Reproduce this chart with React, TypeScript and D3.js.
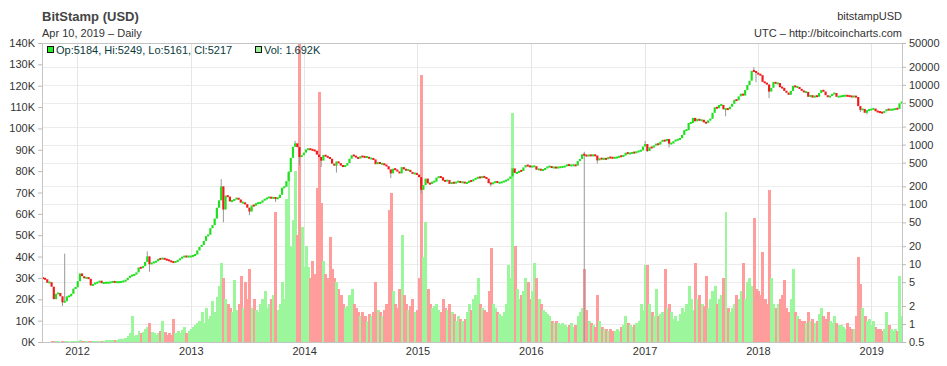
import React, { useRef, useEffect } from 'react';
import * as d3 from 'd3';

// weekly samples (Tuesdays), price in USD, volume in K BTC
const firstWeek = '2011-09-13';
const firstOpen = 5.9;

const close2011 = [5.8, 5.6, 4.9, 5.0, 4.2, 2.6, 3.2, 3.3, 2.9, 2.3, 2.4, 2.9, 2.9, 3.2, 3.9, 4.1];
const close2012 = [5.2, 7.0, 6.3, 5.8, 6.0, 5.7, 4.4, 4.6, 4.9, 4.9, 5.3, 4.8, 4.9, 4.9, 4.9, 5.0, 5.1, 5.0, 5.0, 5.0, 5.1, 5.2, 5.4, 5.9, 6.4, 6.5, 6.7, 7.3, 8.8, 8.6, 9.3, 10.9, 13.5, 10.0, 10.6, 10.8, 11.2, 12.3, 12.2, 12.6, 12.0, 11.8, 11.4, 10.9, 10.8, 11.0, 11.7, 12.4, 13.3, 13.5, 13.4, 13.4];
const close2013 = [13.5, 14.0, 14.5, 17.0, 19.5, 21.0, 24.5, 29.5, 31.0, 40.0, 45, 58, 88, 117, 200, 82, 140, 135, 112, 115, 122, 128, 121, 107, 107, 101, 88, 76, 96, 95, 105, 105, 107, 117, 123, 128, 133, 126, 131, 125, 128, 145, 190, 197, 245, 350, 600, 920, 1050, 905, 620, 665, 735];
const close2014 = [830, 845, 830, 805, 790, 680, 620, 540, 670, 635, 615, 580, 480, 445, 520, 490, 445, 430, 445, 490, 580, 665, 650, 610, 585, 640, 625, 620, 620, 585, 585, 565, 470, 510, 475, 478, 460, 435, 385, 330, 395, 382, 355, 330, 420, 385, 375, 378, 348, 325, 332, 315];
const close2015 = [285, 175, 210, 270, 225, 220, 240, 240, 280, 290, 285, 250, 245, 255, 220, 235, 225, 238, 242, 232, 237, 226, 229, 250, 243, 264, 270, 288, 277, 294, 283, 270, 226, 222, 228, 243, 230, 230, 236, 246, 253, 268, 293, 400, 336, 336, 365, 362, 415, 455, 437, 427];
const close2016 = [430, 435, 380, 390, 372, 377, 405, 425, 432, 412, 415, 412, 415, 422, 424, 435, 465, 445, 450, 454, 445, 530, 575, 690, 665, 645, 670, 650, 670, 655, 545, 590, 575, 580, 575, 610, 606, 598, 605, 610, 640, 637, 655, 730, 710, 711, 740, 730, 758, 780, 800, 930];
const close2017 = [1020, 780, 900, 890, 970, 1030, 1000, 1120, 1190, 1140, 1240, 1040, 1040, 1140, 1200, 1210, 1280, 1450, 1740, 1750, 2300, 2300, 2800, 2450, 2700, 2500, 2600, 2350, 2300, 2550, 2700, 3400, 4200, 4050, 4600, 4600, 3900, 3950, 3900, 4300, 4800, 5600, 5500, 6400, 7100, 6600, 8200, 9900, 11700, 17100, 17000, 15800];
const close2018 = [15000, 14500, 11200, 10800, 10100, 7700, 8900, 11200, 10400, 10700, 9100, 8900, 7900, 7400, 6800, 7900, 9600, 9200, 9200, 8500, 8000, 7500, 7600, 6300, 6700, 6100, 6600, 6300, 7300, 8200, 7700, 6700, 6200, 6500, 7000, 7300, 6300, 6350, 6450, 6550, 6600, 6500, 6450, 6300, 6450, 6250, 4400, 3800, 3950, 3400, 3750, 3800];
const close2019 = [3900, 4000, 3600, 3550, 3450, 3400, 3600, 3900, 3800, 3850, 3850, 4000, 3950, 4900, 5217];

const vol2011 = [0.1, 0.1, 0.2, 0.2, 0.3, 0.5, 0.3, 0.3, 0.2, 0.4, 0.3, 0.3, 0.2, 0.3, 0.3, 0.3];
const vol2012 = [0.5, 0.8, 0.6, 0.4, 0.4, 0.5, 0.6, 0.5, 0.5, 0.6, 0.5, 0.6, 0.7, 0.8, 0.8, 0.9, 1.0, 1.1, 1.0, 1.2, 1.3, 1.5, 2.0, 3.0, 4.0, 12.0, 3.0, 3.5, 5.0, 4.0, 4.5, 6.0, 7.0, 9.0, 4.5, 4.0, 3.5, 4.0, 5.0, 10.0, 4.5, 3.5, 4.0, 3.5, 11.0, 4.0, 5.0, 4.0, 5.5, 7.0, 4.0, 5.0];
const vol2013 = [6, 7, 8, 9, 10, 14, 9, 16, 11, 12, 19, 14, 21, 26, 37, 30, 20, 18, 16, 14, 29, 15, 18, 31, 16, 28, 20, 34, 16, 20, 15, 14, 18, 20, 24, 16, 18, 20, 22, 61, 15, 18, 28, 20, 67, 80, 45, 57, 80, 50, 142, 54, 35];
const vol2014 = [45, 35, 30, 38, 32, 72, 117, 65, 38, 32, 30, 49, 34, 30, 28, 25, 22, 18, 16, 17, 22, 25, 18, 16, 14, 12, 14, 12, 10, 13, 12, 14, 28, 15, 14, 12, 15, 18, 62, 70, 24, 18, 16, 25, 50, 22, 18, 15, 17, 20, 14, 15];
const vol2015 = [30, 125, 40, 56, 25, 18, 16, 17, 18, 15, 14, 20, 16, 15, 18, 14, 13, 10, 12, 11, 10, 11, 14, 18, 15, 20, 22, 30, 18, 16, 15, 14, 24, 44, 18, 16, 14, 13, 12, 14, 18, 36, 30, 107, 45, 25, 20, 22, 24, 30, 28, 20];
const vol2016 = [24, 37, 30, 20, 18, 15, 14, 13, 12, 10, 9, 10, 9, 8, 9, 8, 7, 8, 9, 7, 8, 12, 14, 16, 34, 15, 10, 9, 8, 7, 22, 10, 7, 6, 6, 5, 6, 5, 5, 6, 5, 7, 8, 12, 9, 8, 7, 8, 9, 10, 18, 15];
const vol2017 = [36, 36, 18, 14, 12, 25, 12, 13, 14, 34, 16, 18, 14, 11, 12, 10, 13, 16, 14, 18, 26, 20, 15, 37, 20, 22, 18, 17, 31, 16, 20, 24, 26, 18, 20, 22, 30, 61, 16, 14, 16, 18, 22, 20, 24, 37, 20, 28, 30, 26, 58, 25];
const vol2018 = [24, 22, 42, 20, 18, 71, 30, 18, 16, 18, 20, 22, 29, 16, 14, 20, 34, 14, 12, 11, 10, 10, 9, 14, 10, 11, 9, 10, 13, 16, 12, 11, 14, 10, 9, 12, 9, 8, 8, 7, 6, 9, 7, 6, 6, 12, 40, 27, 16, 12, 10, 11];
const vol2019 = [8, 10, 7, 6, 6, 5, 6, 14, 8, 6, 5, 6, 5, 31, 12];

// wick extremes that stand out on the chart
const wickHigh: [string, number][] = [
  ['2011-11-22', 15], ['2012-08-14', 16.4], ['2013-04-09', 266], ['2013-12-03', 1160],
  ['2016-06-21', 760], ['2017-01-03', 1150], ['2017-12-19', 19700],
];
const wickLow: [string, number][] = [
  ['2011-11-15', 2.0], ['2012-08-21', 7.5], ['2013-04-16', 50], ['2013-07-09', 66],
  ['2013-10-01', 110], ['2013-12-17', 455], ['2014-02-25', 420], ['2014-04-15', 340],
  ['2014-10-07', 275], ['2015-01-13', 152], ['2015-08-25', 200], ['2016-06-21', 0.5],
  ['2016-08-02', 480], ['2017-01-10', 750], ['2017-03-21', 890], ['2017-09-19', 2970],
  ['2017-12-26', 11000], ['2018-02-06', 6000], ['2018-11-27', 3500], ['2018-12-18', 3200],
];

const volumeTicks = [0, 10, 20, 30, 40, 50, 60, 70, 80, 90, 100, 110, 120, 130, 140];
const priceTicks = [0.5, 1, 2, 5, 10, 20, 50, 100, 200, 500, 1000, 2000, 5000, 10000, 20000, 50000];
const yearTicks = [2012, 2013, 2014, 2015, 2016, 2017, 2018, 2019];

const closes = [...close2011, ...close2012, ...close2013, ...close2014, ...close2015, ...close2016, ...close2017, ...close2018, ...close2019];
const volumes = [...vol2011, ...vol2012, ...vol2013, ...vol2014, ...vol2015, ...vol2016, ...vol2017, ...vol2018, ...vol2019];

const W = 947;
const H = 366;
const margin = { top: 43, right: 45, bottom: 24, left: 42 };
const FONT = 'Arial, "Liberation Sans", sans-serif';

const BitstampChart = () => {
  const chartRef = useRef<HTMLDivElement>(null);

  useEffect(() => {
    const left = margin.left;
    const right = W - margin.right;
    const top = margin.top;
    const bottom = H - margin.bottom;

    d3.select(chartRef.current).selectAll('*').remove();

    const svg = d3.select(chartRef.current)
      .append('svg')
      .attr('width', W)
      .attr('height', H)
      .style('display', 'block')
      .style('background', '#fff')
      .style('font-family', FONT);

    const parse = d3.utcParse('%Y-%m-%d');
    const fmt = d3.utcFormat('%Y-%m-%d');
    const start = parse(firstWeek) as Date;
    const highs = new Map(wickHigh);
    const lows = new Map(wickLow);

    const weeks = closes.map((c, i) => {
      const date = d3.utcDay.offset(start, 7 * i);
      const open = i === 0 ? firstOpen : closes[i - 1];
      const key = fmt(date);
      return {
        date,
        open,
        close: c,
        high: highs.get(key) ?? Math.max(open, c),
        low: lows.get(key) ?? Math.min(open, c),
        vol: volumes[i],
      };
    });

    const x = d3.scaleUtc()
      .domain([parse('2011-09-10') as Date, parse('2019-04-10') as Date])
      .range([left, right]);
    const yVol = d3.scaleLinear().domain([0, 140]).range([bottom, top]);
    const yPrice = d3.scaleLog().domain([0.5, 50000]).range([bottom, top]);

    const bw = x(d3.utcDay.offset(start, 7)) - x(start);

    svg.append('defs').append('clipPath').attr('id', 'plot-clip')
      .append('rect').attr('x', left).attr('y', top).attr('width', right - left).attr('height', bottom - top);

    // grid
    const grid = svg.append('g');
    grid.selectAll('line.h')
      .data(priceTicks.slice(1, -1))
      .enter().append('line')
      .attr('x1', left).attr('x2', right)
      .attr('y1', d => Math.round(yPrice(d)) + 0.5).attr('y2', d => Math.round(yPrice(d)) + 0.5)
      .attr('stroke', '#ececec');
    grid.selectAll('line.v')
      .data(yearTicks)
      .enter().append('line')
      .attr('x1', d => Math.round(x(Date.UTC(d, 0, 1))) + 0.5).attr('x2', d => Math.round(x(Date.UTC(d, 0, 1))) + 0.5)
      .attr('y1', top).attr('y2', bottom)
      .attr('stroke', '#e6e6e6');

    const plot = svg.append('g').attr('clip-path', 'url(#plot-clip)');

    // volume
    plot.append('g').attr('shape-rendering', 'crispEdges')
      .selectAll('rect')
      .data(weeks)
      .enter().append('rect')
      .attr('x', d => x(d.date) - bw / 2)
      .attr('width', bw + 0.8)
      .attr('y', d => yVol(d.vol))
      .attr('height', d => bottom - yVol(d.vol))
      .attr('fill', d => (d.close >= d.open ? '#9cf79c' : '#ff9c9c'));

    // wicks
    plot.append('g')
      .selectAll('line')
      .data(weeks.filter(d => d.high > Math.max(d.open, d.close) || d.low < Math.min(d.open, d.close)))
      .enter().append('line')
      .attr('x1', d => x(d.date)).attr('x2', d => x(d.date))
      .attr('y1', d => yPrice(d.high)).attr('y2', d => yPrice(d.low))
      .attr('stroke', '#999').attr('stroke-width', 1);

    // candle bodies
    plot.append('g')
      .selectAll('rect')
      .data(weeks)
      .enter().append('rect')
      .attr('x', d => x(d.date) - bw / 2)
      .attr('width', bw)
      .attr('y', d => {
        const a = yPrice(d.open);
        const b = yPrice(d.close);
        const h = Math.max(2, Math.abs(a - b));
        return (a + b) / 2 - h / 2;
      })
      .attr('height', d => Math.max(2, Math.abs(yPrice(d.open) - yPrice(d.close))))
      .attr('fill', d => (d.close >= d.open ? '#1fe01f' : '#f01c1c'));

    // frame
    const frame = svg.append('g').attr('stroke', '#c4c4c4').attr('shape-rendering', 'crispEdges');
    frame.append('line').attr('x1', left).attr('x2', right).attr('y1', top).attr('y2', top);
    frame.append('line').attr('x1', left).attr('x2', right).attr('y1', bottom).attr('y2', bottom);
    frame.append('line').attr('x1', left).attr('x2', left).attr('y1', top).attr('y2', bottom);
    frame.append('line').attr('x1', right).attr('x2', right).attr('y1', top).attr('y2', bottom);

    const styleAxis = (g: any) => {
      g.select('.domain').remove();
      g.selectAll('.tick line').attr('stroke', '#b8b8b8');
      g.selectAll('.tick text').attr('fill', '#333').attr('font-size', 11).attr('font-family', FONT);
    };

    svg.append('g')
      .attr('transform', `translate(${left},0)`)
      .call(d3.axisLeft(yVol).tickValues(volumeTicks).tickFormat(d => `${d}K`).tickSize(4).tickPadding(3))
      .call(styleAxis);

    svg.append('g')
      .attr('transform', `translate(${right},0)`)
      .call(d3.axisRight(yPrice).tickValues(priceTicks).tickFormat(d => String(d)).tickSize(4).tickPadding(3))
      .call(styleAxis);

    svg.append('g')
      .attr('transform', `translate(0,${bottom})`)
      .call(d3.axisBottom(x).tickValues(yearTicks.map(yr => new Date(Date.UTC(yr, 0, 1)))).tickFormat(d => d3.utcFormat('%Y')(d as Date)).tickSize(0).tickPadding(5))
      .call(styleAxis);

    // titles
    svg.append('text').attr('x', left).attr('y', 21)
      .attr('font-size', 13).attr('font-weight', 'bold').attr('fill', '#444')
      .text('BitStamp (USD)');
    svg.append('text').attr('x', left).attr('y', 37)
      .attr('font-size', 11).attr('fill', '#333')
      .text('Apr 10, 2019 \u2013 Daily');
    svg.append('text').attr('x', right).attr('y', 20).attr('text-anchor', 'end')
      .attr('font-size', 11).attr('fill', '#333')
      .text('bitstampUSD');
    svg.append('text').attr('x', right).attr('y', 37).attr('text-anchor', 'end')
      .attr('font-size', 11).attr('fill', '#333')
      .text('UTC \u2013 http://bitcoincharts.com');

    // legend
    svg.append('rect').attr('x', 47.5).attr('y', 46.5).attr('width', 6).attr('height', 6)
      .attr('fill', '#22ee22').attr('stroke', '#111');
    svg.append('text').attr('x', 56).attr('y', 54)
      .attr('font-size', 11).attr('fill', '#0a3b3b')
      .text('Op:5184, Hi:5249, Lo:5161, Cl:5217');
    svg.append('rect').attr('x', 255.5).attr('y', 46.5).attr('width', 6).attr('height', 6)
      .attr('fill', '#99ee99').attr('stroke', '#111');
    svg.append('text').attr('x', 264).attr('y', 54)
      .attr('font-size', 11).attr('fill', '#0a3b3b')
      .text('Vol: 1.692K');
  }, []);

  return <div ref={chartRef} style={{ position: 'absolute', left: 0, top: 0 }}></div>;
};

export default function App() {
  return <BitstampChart />;
}
